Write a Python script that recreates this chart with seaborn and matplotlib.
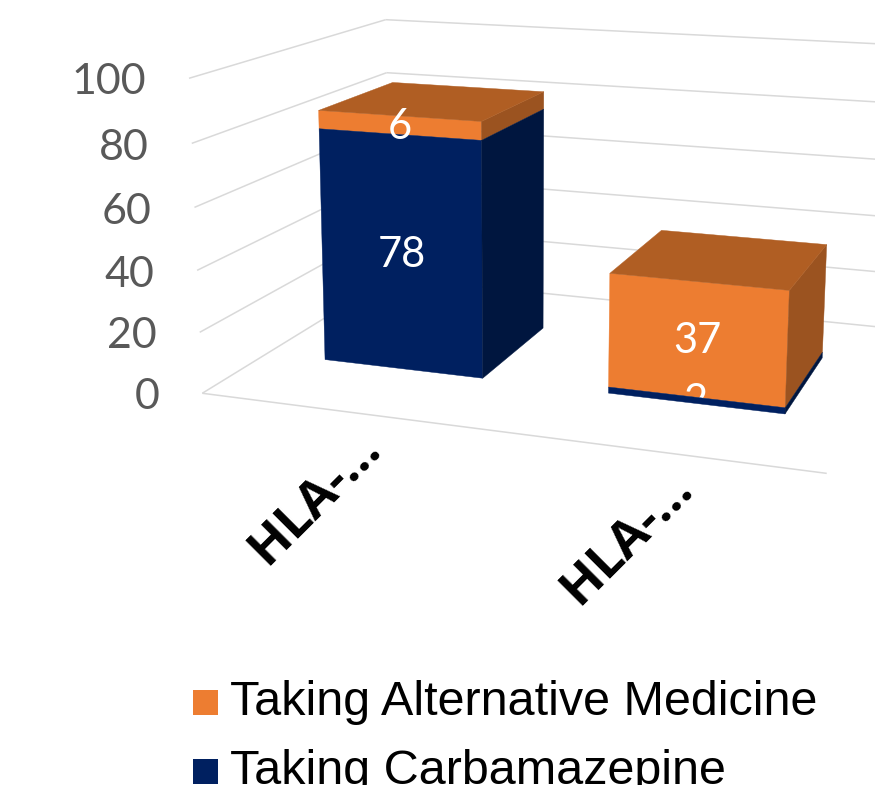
import numpy as np
import pandas as pd
import matplotlib
matplotlib.use("Agg")
import matplotlib.pyplot as plt
from matplotlib.legend_handler import HandlerPatch
from matplotlib.patches import Patch, Polygon, Rectangle
import seaborn as sns

# Chart data
categories = ["HLA-…", "HLA-…"]
carbamazepine = [78, 2]
alternative = [6, 37]
value_ticks = [0, 20, 40, 60, 80, 100]
series_names = ["Taking Alternative Medicine", "Taking Carbamazepine"]

# Shades of each series: front, side and top faces
palette = {
    "Taking Carbamazepine": sns.color_palette(["#002060", "#00163F", "#001A4D"]),
    "Taking Alternative Medicine": sns.color_palette(["#ED7D31", "#9B5320", "#B05E23"]),
}

# Bar footprint inside the chart box (category units and depth fraction)
BAR_WIDTH = 0.57
DEPTH_RANGE = (0.305, 0.71)

# Corners of the chart box, used to calibrate the perspective camera
BOX_WORLD = np.array([
    [0, 0, 0], [0, 0, 100], [0, 1, 0], [0, 1, 100],
    [2, 0, 0], [2, 1, 0], [2, 1, 100],
], dtype=float)
BOX_SCREEN = np.array([
    [204, 392], [187, 79], [388, 279], [388, 19],
    [827, 474], [906, 329], [919, 46],
], dtype=float)


def fit_camera(world, screen):
    """Solve a 3x4 projective camera by the direct linear transform."""
    rows = []
    for (x, z, y), (u, v) in zip(world, screen):
        p = [x, z, y / 100.0, 1.0]
        rows.append(p + [0, 0, 0, 0] + [-u * c for c in p])
        rows.append([0, 0, 0, 0] + p + [-v * c for c in p])
    _, _, vt = np.linalg.svd(np.array(rows))
    return vt[-1].reshape(3, 4)


CAMERA = fit_camera(BOX_WORLD, BOX_SCREEN)


def project(x, z, y):
    h = CAMERA @ np.array([x, z, y / 100.0, 1.0])
    return h[0] / h[2], h[1] / h[2]


sns.set_theme(style="white")
plt.rcParams["font.family"] = ["Lato", "DejaVu Sans"]

fig = plt.figure(figsize=(8.75, 7.85), dpi=100)
ax = fig.add_axes([0, 0, 1, 1])
ax.set_xlim(0, 875)
ax.set_ylim(785, 0)
ax.axis("off")

GRID = "#D9D9D9"


def grid_line(a, b):
    xs, ys = zip(project(*a), project(*b))
    ax.plot(xs, ys, color=GRID, lw=1.1, zorder=1, solid_capstyle="butt")


# Walls and floor
for v in value_ticks:
    grid_line((0, 0, v), (0, 1, v))
    grid_line((0, 1, v), (2, 1, v))
    lx, ly = project(0, 0, v)
    ax.annotate(str(v), (lx, ly), xytext=(-31, -3), textcoords="offset points",
                ha="right", va="center", fontsize=31, color="#595959")
grid_line((0, 0, 0), (2, 0, 0))


def face(corners, color, zorder):
    pts = [project(*c) for c in corners]
    ax.add_patch(Polygon(pts, closed=True, facecolor=color, edgecolor=color,
                         lw=0.3, zorder=zorder))


def segment(center, low, high, name, show_top):
    x0, x1 = center - BAR_WIDTH / 2, center + BAR_WIDTH / 2
    z0, z1 = DEPTH_RANGE
    front, side, top = palette[name]
    base = 5 if name == "Taking Carbamazepine" else 3
    face([(x0, z0, low), (x1, z0, low), (x1, z0, high), (x0, z0, high)], front, base)
    face([(x1, z0, low), (x1, z1, low), (x1, z1, high), (x1, z0, high)], side, base)
    if show_top:
        face([(x0, z0, high), (x1, z0, high), (x1, z1, high), (x0, z1, high)], top, base)


def value_label(center, low, high, value):
    # Very thin segments have their label tucked behind the segment's face
    order = 4 if value < 3 else 6
    px, py = project(center, DEPTH_RANGE[0], (low + high) / 2)
    ax.annotate(str(value), (px, py), xytext=(0.5, -1), textcoords="offset points",
                ha="center", va="center", color="white", fontsize=30, zorder=order)


table = pd.DataFrame({"category": range(len(categories)),
                      "carbamazepine": carbamazepine,
                      "alternative": alternative})

for row in table.itertuples():
    center = row.category + 0.5
    total = row.carbamazepine + row.alternative
    segment(center, 0, row.carbamazepine, "Taking Carbamazepine", False)
    segment(center, row.carbamazepine, total, "Taking Alternative Medicine", True)
    value_label(center, 0, row.carbamazepine, row.carbamazepine)
    value_label(center, row.carbamazepine, total, row.alternative)
    fx, fy = project(center, 0, 0)
    ax.annotate(categories[row.category], (fx, fy), xytext=(-21, -63),
                textcoords="offset points", rotation=45, rotation_mode="anchor",
                ha="center", va="center", fontsize=37, fontweight="bold",
                family="Open Sans", color="black")


def lowered_swatch(legend, orig_handle, xdescent, ydescent, width, height, fontsize):
    # Square colour key sitting slightly below the centre of its text line
    return Rectangle((-xdescent, -ydescent - 2), width, width)


handles = [Patch(facecolor=palette[n][0], edgecolor="none", label=n) for n in series_names]
ax.legend(handles=handles, loc="upper left", bbox_to_anchor=(193, 680),
          bbox_transform=ax.transData, frameon=False, borderpad=0, borderaxespad=0,
          handlelength=0.51, handleheight=0.51, handletextpad=0.25,
          labelspacing=0.5, prop={"family": "Liberation Sans", "size": 34.9},
          labelcolor="black",
          handler_map={Patch: HandlerPatch(patch_func=lowered_swatch)})

fig.savefig("out.png", dpi=100)
